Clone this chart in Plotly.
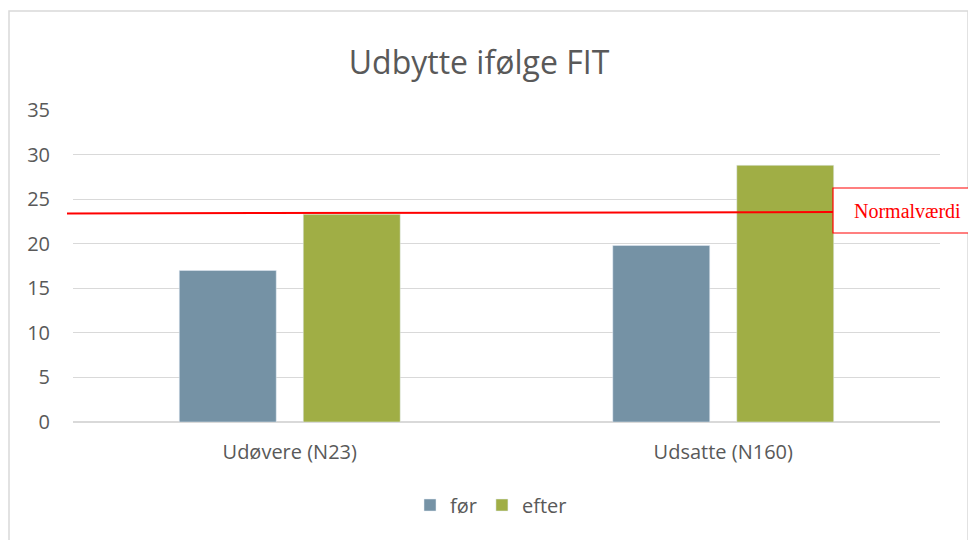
import plotly.graph_objects as go

categories = ["Udøvere (N23)", "Udsatte (N160)"]
foer = [17.0, 19.8]
efter = [23.3, 28.8]
series_names = ["før", "efter"]
normal_value = 23.45
normal_label = "Normalværdi"
y_ticks = [0, 5, 10, 15, 20, 25, 30, 35]

# page has an 8px body margin; work in page pixels and convert
OFF = 8
W, H = 976, 540
PL, PR, PT, PB = 73, 940, 110, 422  # plot area in page pixels
L = PL - OFF
T = PT - OFF
pw = PR - PL
ph = PB - PT
R = W - L - pw
B = H - T - ph

def px_x(x):
    return (x - PL) / pw

def px_y(y):
    return (PB - y) / ph

fig = go.Figure()
fig.add_bar(x=categories, y=foer, name=series_names[0], marker_color="#7592A5")
fig.add_bar(x=categories, y=efter, name=series_names[1], marker_color="#A0AE45")

shapes = [
    dict(type="rect", xref="paper", yref="paper",
         x0=px_x(9), x1=px_x(968), y0=px_y(580), y1=px_y(11),
         line=dict(color="#D9D9D9", width=1.5), fillcolor="rgba(0,0,0,0)", layer="below"),
    dict(type="line", xref="paper", yref="y",
         x0=px_x(67), x1=px_x(833), y0=normal_value - 0.05, y1=normal_value + 0.1,
         line=dict(color="#FF0000", width=2)),
    dict(type="rect", xref="paper", yref="paper",
         x0=px_x(833), x1=px_x(1000), y0=px_y(233), y1=px_y(188),
         line=dict(color="#FF0000", width=1.2), fillcolor="white"),
]

annotations = [
    dict(text=normal_label, xref="paper", yref="paper", x=px_x(907), y=px_y(211),
         showarrow=False, xanchor="center", yanchor="middle",
         font=dict(family="Liberation Serif", size=20, color="#FF0000")),
]

fig.update_layout(
    width=W, height=H,
    margin=dict(l=L, r=R, t=T, b=B, autoexpand=False),
    paper_bgcolor="white", plot_bgcolor="white",
    title=dict(text="Udbytte ifølge FIT", x=(479 - OFF) / W, xanchor="center",
               y=1 - (63 - OFF) / H, yanchor="middle", yref="container",
               font=dict(family="Open Sans", size=32, color="#595959")),
    font=dict(family="Open Sans", color="#595959"),
    barmode="group", bargap=0.428, bargroupgap=0.218,
    showlegend=True,
    legend=dict(orientation="h", xref="container", x=(491 - OFF) / W, xanchor="center",
                yref="container", y=1 - (505 - OFF) / H, yanchor="middle",
                font=dict(size=20, color="#595959"), itemwidth=30, traceorder="normal"),
    shapes=shapes, annotations=annotations,
)
fig.update_yaxes(range=[0, 35], tickvals=y_ticks, showgrid=True, gridcolor="#D9D9D9",
                 gridwidth=1, zeroline=True, zerolinecolor="#D9D9D9", showline=False,
                 tickfont=dict(size=20, color="#595959"), ticklabelstandoff=22)
fig.update_xaxes(showgrid=False, showline=False, ticks="",
                 tickfont=dict(size=20, color="#595959"), ticklabelstandoff=16)

fig.write_html("out.html")
